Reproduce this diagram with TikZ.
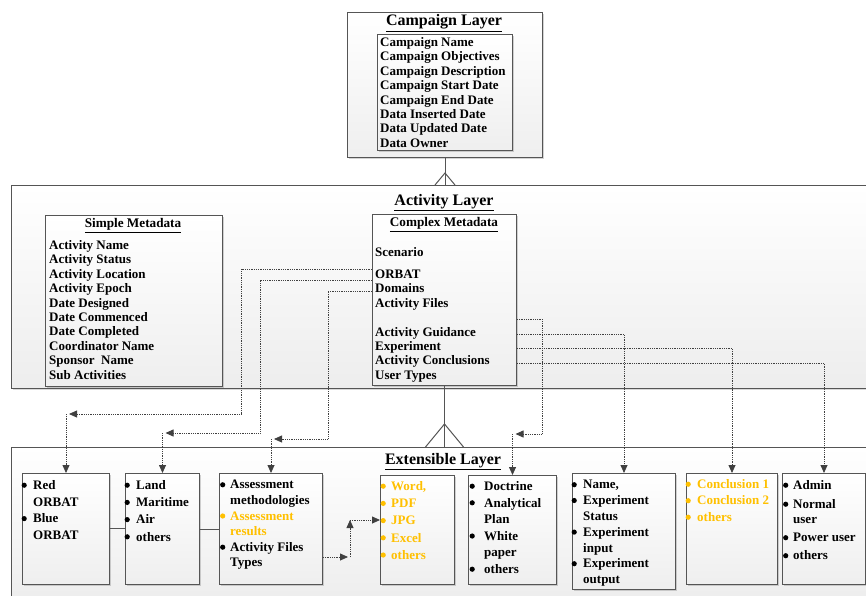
\documentclass[tikz,border=0pt]{standalone}
\usepackage{fontspec}
\setmainfont{Liberation Serif}
\usetikzlibrary{shadows,arrows.meta,calc}
\definecolor{bord}{HTML}{555555}
\definecolor{orng}{HTML}{FFC000}
\definecolor{conn}{HTML}{404040}
\newcommand\bl[1][9]{\llap{\tikz[baseline=0pt]\fill (0pt,4.2pt) circle[radius=2.6pt];\kern\dimexpr#1pt-2.6pt\relax}}
\tikzset{
 layerbox/.style={draw=bord, line width=1pt, top color=white, bottom color=gray!14, inner sep=0pt, anchor=north west,
   drop shadow={shadow xshift=1.2pt, shadow yshift=-1.2pt, opacity=0.3}},
 card/.style={draw=bord, line width=1pt, top color=white, bottom color=gray!13, inner sep=0pt, anchor=north west,
   drop shadow={shadow xshift=1.5pt, shadow yshift=-1.5pt, opacity=0.35}},
 ttl/.style={font=\fontsize{16}{18}\selectfont\bfseries, inner sep=0pt, anchor=base},
 subttl/.style={font=\fontsize{13.2}{15}\selectfont\bfseries, inner sep=0pt, anchor=base},
 items/.style={anchor=north west, inner sep=0pt, align=left, font=\fontsize{13}{#1}\selectfont\bfseries},
 items/.default=14.4,
 dotc/.style={draw=conn, densely dotted, line width=0.8pt},
 arr/.style={dotc, -{Triangle[length=8pt,width=7pt]}},
 solidc/.style={draw=bord, line width=1pt},
}
\begin{document}
\begin{tikzpicture}[x=1pt,y=-1pt]
\useasboundingbox (0,0) rectangle (866,596);
% layers
\node[layerbox, minimum width=860pt, minimum height=203pt] (actl) at (11,185) {};
\node[layerbox, minimum width=860pt, minimum height=155pt] (extl) at (11,447) {};
\node[card, minimum width=195pt, minimum height=145pt] (camp) at (347,12) {};
\node[card, minimum width=135pt, minimum height=116pt] (campin) at (377,34) {};
% titles
\node[ttl] (tcamp) at (444,26) {\underline{Campaign Layer}};
\node[ttl] (tact) at (444,205) {\underline{Activity Layer}};
\node[ttl] (text) at (443,464.3) {\underline{Extensible Layer}};
% campaign items
\node[items] (ci) at (380,37.2) {Campaign Name\\ Campaign Objectives\\ Campaign Description\\ Campaign Start Date\\ Campaign End Date\\ Data Inserted Date\\ Data Updated Date\\ Data Owner};
% simple metadata
\node[card, minimum width=177pt, minimum height=171pt] (sm) at (45,215) {};
\node[subttl] (tsm) at (133,227.7) {\underline{Simple Metadata}};
\node[items] (smi) at (49,240.2) {Activity Name\\ Activity Status\\ Activity Location\\ Activity Epoch\\ Date Designed\\ Date Commenced\\ Date Completed\\ Coordinator Name\\ Sponsor\ \ Name\\ Sub Activities};
% complex metadata
\node[card, minimum width=144pt, minimum height=171pt] (cm) at (372,214) {};
\node[subttl] (tcm) at (444,226.7) {\underline{Complex Metadata}};
\node[items] (cmi) at (375,247.2) {Scenario\\[7.6pt] ORBAT\\ Domains\\ Activity Files\\[14.4pt] Activity Guidance\\ Experiment\\ Activity Conclusions\\ User Types};
% crow's feet
\coordinate (f1) at (camp.south |- actl.north);
\draw[solidc] (camp.south) -- (f1);
\draw[solidc] ([xshift=-10pt]f1) -- ([yshift=12pt]f1) -- ([xshift=10pt]f1);
\coordinate (f2) at (cm.south |- extl.north);
\draw[solidc] (cm.south) -- (f2);
\draw[solidc] ([xshift=-19pt]f2) -- ([yshift=23pt]f2) -- ([xshift=19pt]f2);
% extensible boxes
\node[card, minimum width=87pt, minimum height=111pt] (b1) at (22,473) {};
\node[card, minimum width=74pt, minimum height=111pt] (b2) at (125,473) {};
\node[card, minimum width=103pt, minimum height=111pt] (b3) at (219,473) {};
\node[card, minimum width=74pt, minimum height=109pt] (b4) at (380,475) {};
\node[card, minimum width=88pt, minimum height=109pt] (b5) at (468,475) {};
\node[card, minimum width=103pt, minimum height=116pt] (b6) at (572,473) {};
\node[card, minimum width=91pt, minimum height=111pt] (b7) at (686,473) {};
\node[card, minimum width=83pt, minimum height=111pt] (b8) at (782,473) {};
\node[items=16.7] (t1) at (33,480.2) {\bl Red\\ ORBAT\\ \bl Blue\\ ORBAT};
\node[items=17.2] (t2) at (136,480.2) {\bl Land\\ \bl Maritime\\ \bl Air\\ \bl others};
\node[items=15.6] (t3) at (230,480.2) {\bl[7.5]Assessment\\ methodologies\\ \textcolor{orng}{\bl[7.5]Assessment}\\ \textcolor{orng}{results}\\ \bl[7.5]Activity Files\\ Types};
\node[items=17.2, text=orng] (t4) at (391,481.2) {\bl[8]Word,\\ \bl[8]PDF\\ \bl[8]JPG\\ \bl[8]Excel\\ \bl[8]others};
\node[items=16.6] (t5) at (484,481.2) {\bl[12]Doctrine\\ \bl[12]Analytical\\ Plan\\ \bl[12]White\\ paper\\ \bl[12]others};
\node[items=15.8] (t6) at (583,480.2) {\bl Name,\\ \bl Experiment\\ Status\\ \bl Experiment\\ input\\ \bl Experiment\\ output};
\node[items=16.5, text=orng] (t7) at (697,479.2) {\bl Conclusion 1\\ \bl Conclusion 2\\ \bl others};
\node[items=15.5] (t8) at (793,480.2) {\bl[7.5]Admin\\[3.5pt] \bl[7.5]Normal\\ user\\[2.5pt] \bl[7.5]Power user\\[2.5pt] \bl[7.5]others};
% solid links between boxes
\draw[solidc] (b1.east |- 0,528) -- (b2.west |- 0,528);
\draw[solidc] (b2.east |- 0,529) -- (b3.west |- 0,529);
% box3 -> box4
\coordinate (k1) at (350,557);
\coordinate (k2) at (350,520);
\draw[arr] (b3.east |- k1) -- ([xshift=-2pt]k1);
\draw[arr] (k1) -- (k2);
\draw[arr] (k2) -- (b4.west |- k2);
% dotted connectors left
\draw[arr] (cm.west |- 0,269) -| (241,414) -- ([xshift=3pt]b1.north |- 0,414);
\draw[arr] (b1.north |- 0,414) -- (b1.north);
\draw[arr] (cm.west |- 0,280) -| (260,433) -- ([xshift=3pt]b2.north |- 0,433);
\draw[arr] (b2.north |- 0,433) -- (b2.north);
\draw[arr] (cm.west |- 0,291) -| (328,439) -- ([xshift=3pt]b3.north |- 0,439);
\draw[arr] (b3.north |- 0,439) -- (b3.north);
% dotted connectors right
\draw[arr] (cm.east |- 0,319) -| (542,434) -- ([xshift=3pt]b5.north |- 0,434);
\draw[arr] (b5.north |- 0,434) -- (b5.north);
\draw[arr] (cm.east |- 0,334) -| (b6.north);
\draw[arr] (cm.east |- 0,348) -| (b7.north);
\draw[arr] (cm.east |- 0,363) -| (b8.north);
\end{tikzpicture}
\end{document}
